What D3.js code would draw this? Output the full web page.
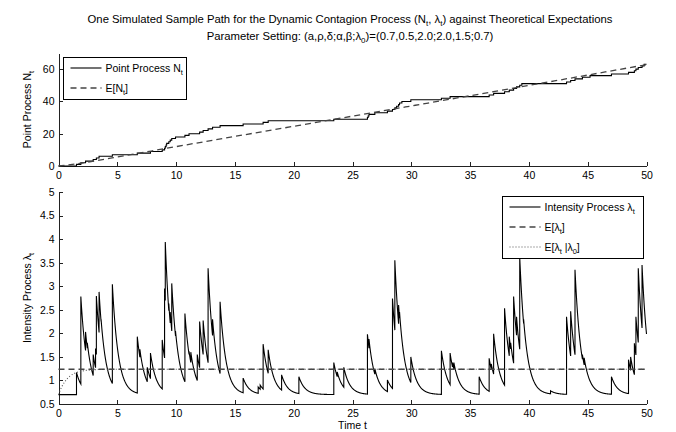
<!DOCTYPE html>
<html>
<head>
<meta charset="utf-8">
<script src="https://cdnjs.cloudflare.com/ajax/libs/d3/7.8.5/d3.min.js"></script>
<style>
  body { margin: 0; background: #fff; }
  svg text { font-family: "Liberation Sans", Arial, Helvetica, sans-serif; font-size: 10.5px; fill: #000; }
  .axis path, .axis line { stroke: #222; stroke-width: 1; shape-rendering: crispEdges; }
</style>
</head>
<body>
<svg id="chart" width="676" height="432"></svg>
<script>
/*
Dynamic contagion process: one sample path vs. theoretical expectations
*/

// Model parameters, as printed in the title
var aBase = 0.7;   // baseline a
var delta = 2.0;   // decay rate

// Intensity: jump times and level just after each jump
var jumpT = [1.53, 1.90, 2.30, 2.45, 2.95, 3.15, 3.22, 3.45, 3.62, 4.58,
  6.70, 6.92, 7.55, 7.82, 8.82, 9.02, 9.08, 9.38, 9.50, 9.63,
  9.95, 10.75, 11.10, 11.25, 11.80, 12.00, 12.30, 12.72, 13.10, 13.74,
  15.70, 16.98, 17.15, 17.40, 17.83, 18.97, 20.44, 23.41, 23.70, 24.26,
  26.27, 26.40, 26.90, 27.97, 28.40, 28.60, 28.92, 29.00, 29.96, 32.56,
  33.30, 33.50, 33.62, 35.77, 36.62, 36.80, 37.00, 37.93, 38.33, 38.45,
  38.70, 38.95, 39.22, 39.55, 41.84, 43.20, 43.55, 43.92, 44.55, 44.70,
  47.02, 48.47, 48.65, 48.97, 49.10, 49.30, 49.62];
var jumpLevel = [1.17, 2.78, 2.03, 1.80, 1.55, 1.68, 2.79, 2.88, 2.30, 3.04,
  1.93, 1.66, 1.28, 1.58, 1.86, 2.95, 3.94, 2.63, 2.45, 3.06,
  2.05, 2.42, 1.62, 1.60, 1.55, 2.25, 2.27, 3.38, 2.30, 2.67,
  1.05, 0.86, 0.90, 1.77, 1.65, 1.12, 1.08, 1.38, 1.18, 1.28,
  1.98, 1.88, 1.25, 1.01, 2.74, 3.55, 2.60, 2.45, 1.50, 1.63,
  1.58, 1.38, 1.38, 1.08, 1.47, 1.35, 1.99, 2.53, 1.93, 1.80,
  2.78, 2.35, 3.62, 2.30, 0.78, 2.35, 2.47, 3.35, 1.55, 1.48,
  1.08, 1.44, 1.50, 1.79, 2.35, 3.38, 3.45];

// Point process N_t: step times and counts
var stepT = [0, 1.53, 1.90, 2.30, 2.95, 3.22, 3.45, 4.58, 6.70, 7.82,
  8.82, 9.02, 9.08, 9.15, 9.20, 9.38, 9.50, 9.63, 9.95, 10.75,
  11.10, 12.00, 12.30, 12.72, 13.10, 13.74, 15.70, 17.40, 17.83, 23.41,
  26.27, 26.33, 26.40, 26.90, 27.97, 28.40, 28.60, 28.75, 28.92, 29.00,
  29.20, 29.96, 32.56, 33.30, 36.62, 37.00, 37.93, 38.33, 38.70, 38.95,
  39.22, 39.40, 43.20, 43.55, 43.92, 44.55, 45.20, 47.02, 48.47, 48.97,
  49.10, 49.30, 49.62, 49.80];
var stepN = [0, 1, 2, 3, 4, 5, 6, 7, 8, 9,
  10, 11, 12, 13, 14, 15, 16, 17, 18, 19,
  20, 21, 22, 23, 24, 25, 26, 27, 28, 29,
  30, 31, 32, 33, 34, 35, 36, 37, 38, 39,
  40, 41, 42, 43, 44, 45, 46, 47, 48, 49,
  50, 51, 52, 53, 54, 55, 56, 57, 58, 59,
  60, 61, 62, 63];

// E[N_t]
var expNT = [0, 1, 2, 3, 5, 10, 20, 30, 40, 50];
var expNV = [0, 0.8, 1.85, 3.05, 5.55, 12.0, 24.6, 37.2, 49.9, 62.8];

// E[lambda_t] (stationary) and E[lambda_t | lambda_0]
var expLamT = [0, 50];
var expLamV = [1.2375, 1.2375];
var condT = [0, 0.25, 0.5, 0.75, 1, 1.5, 2, 2.5, 3, 4, 5, 50];
var condV = [0.7, 0.852, 0.961, 1.04, 1.096, 1.165, 1.2, 1.218, 1.228, 1.235, 1.237, 1.2375];

var xTicks = [0, 5, 10, 15, 20, 25, 30, 35, 40, 45, 50];
var nTicks = [0, 20, 40, 60];
var lamTicks = [0.5, 1, 1.5, 2, 2.5, 3, 3.5, 4, 4.5, 5];

var svg = d3.select("#chart");

// Layout
var L = 58.5, R = 646.5;
var top1 = 53, bot1 = 166;
var top2 = 192, bot2 = 404;

var x = d3.scaleLinear().domain([0, 50]).range([L, R]);
var yN = d3.scaleLinear().domain([0, 70]).range([bot1, top1]);
var yL = d3.scaleLinear().domain([0.5, 5]).range([bot2, top2]);

function translate(x, y) {
  return "translate(" + x + "," + y + ")";
}

// Text with subscripts: parts = [[text, isSub], ...]
function richText(sel, parts, subSize) {
  subSize = subSize || "7.5px";
  var wasSub = false;
  parts.forEach(function(p) {
    var t = sel.append("tspan").text(p[0]);
    if (p[1] && !wasSub) t.attr("dy", 3).style("font-size", subSize);
    else if (p[1]) t.style("font-size", subSize);
    else if (wasSub) t.attr("dy", -3);
    wasSub = p[1];
  });
  return sel;
}

// Title
richText(svg.append("text").attr("x", 350).attr("y", 23).attr("text-anchor", "middle")
    .style("font-size", "11.3px"),
  [["One Simulated Sample Path for the Dynamic Contagion Process (N", 0], ["t", 1],
   [", \u03bb", 0], ["t", 1], [") against Theoretical Expectations", 0]], "8px");
richText(svg.append("text").attr("x", 350).attr("y", 40).attr("text-anchor", "middle")
    .style("font-size", "11.3px"),
  [["Parameter Setting: (a,\u03c1,\u03b4;\u03b1,\u03b2;\u03bb", 0], ["0", 1],
   [")=(0.7,0.5,2.0;2.0,1.5;0.7)", 0]], "8px");

function tickText(g) {
  g.attr("font-family", null).attr("font-size", null);
  g.selectAll("text").style("font-size", "10.5px");
}

// Axes, top panel
svg.append("g").attr("class", "axis").attr("transform", translate(0, bot1))
  .call(d3.axisBottom(x).tickValues(xTicks).tickSizeInner(-4).tickSizeOuter(0).tickPadding(6))
  .call(tickText);
svg.append("g").attr("class", "axis").attr("transform", translate(L, 0))
  .call(d3.axisLeft(yN).tickValues(nTicks).tickSizeInner(-4).tickSizeOuter(0).tickPadding(4))
  .call(tickText);

// Axes, bottom panel
svg.append("g").attr("class", "axis").attr("transform", translate(0, bot2))
  .call(d3.axisBottom(x).tickValues(xTicks).tickSizeInner(-4).tickSizeOuter(0).tickPadding(6))
  .call(tickText);
svg.append("g").attr("class", "axis").attr("transform", translate(L, 0))
  .call(d3.axisLeft(yL).tickValues(lamTicks).tickFormat(function(d) { return d; })
    .tickSizeInner(-4).tickSizeOuter(0).tickPadding(4))
  .call(tickText);

// Axis labels
richText(svg.append("text").attr("transform", translate(31, (top1 + bot1) / 2) + " rotate(-90)")
  .attr("text-anchor", "middle"), [["Point Process N", 0], ["t", 1]]);
richText(svg.append("text").attr("transform", translate(31, (top2 + bot2) / 2) + " rotate(-90)")
  .attr("text-anchor", "middle"), [["Intensity Process \u03bb", 0], ["t", 1]]);
svg.append("text").attr("x", (L + R) / 2).attr("y", 429).attr("text-anchor", "middle").text("Time t");

// Top panel lines
var nPts = stepT.map(function(t, i) { return [t, stepN[i]]; });
nPts.push([50, stepN[stepN.length - 1]]);
var stepLine = d3.line().x(function(d) { return x(d[0]); }).y(function(d) { return yN(d[1]); })
  .curve(d3.curveStepAfter);
var smoothN = d3.line().x(function(d) { return x(d[0]); }).y(function(d) { return yN(d[1]); })
  .curve(d3.curveMonotoneX);

svg.append("path").attr("d", stepLine(nPts))
  .style("fill", "none").style("stroke", "#000").style("stroke-width", 1.1);
svg.append("path").attr("d", smoothN(expNT.map(function(t, i) { return [t, expNV[i]]; })))
  .style("fill", "none").style("stroke", "#444").style("stroke-width", 1.3)
  .style("stroke-dasharray", "6,4");

// Bottom panel: intensity, decaying toward a between the read jumps
var evT = [0].concat(jumpT), evL = [aBase].concat(jumpLevel);
var lamPts = [];
evT.forEach(function(t0, i) {
  var t1 = i < evT.length - 1 ? evT[i + 1] : 50;
  for (var t = t0; t < t1; t += 0.02) {
    lamPts.push([t, aBase + (evL[i] - aBase) * Math.exp(-delta * (t - t0))]);
  }
  lamPts.push([t1, aBase + (evL[i] - aBase) * Math.exp(-delta * (t1 - t0))]);
});
var lamLine = d3.line().x(function(d) { return x(d[0]); }).y(function(d) { return yL(d[1]); });
var smoothL = d3.line().x(function(d) { return x(d[0]); }).y(function(d) { return yL(d[1]); })
  .curve(d3.curveMonotoneX);

svg.append("path").attr("d", lamLine(lamPts))
  .style("fill", "none").style("stroke", "#000").style("stroke-width", 1.1);
svg.append("path").attr("d", smoothL(expLamT.map(function(t, i) { return [t, expLamV[i]]; })))
  .style("fill", "none").style("stroke", "#444").style("stroke-width", 1.3)
  .style("stroke-dasharray", "6,4");
svg.append("path").attr("d", smoothL(condT.map(function(t, i) { return [t, condV[i]]; })))
  .style("fill", "none").style("stroke", "#555").style("stroke-width", 1.1)
  .style("stroke-dasharray", "1,2");

// Legends
function legend(x0, y0, w, rows) {
  var g = svg.append("g").attr("transform", translate(x0, y0));
  g.append("rect").attr("x", 0).attr("y", 0).attr("width", w).attr("height", rows.length * 20 + 2)
    .style("fill", "#fff").style("stroke", "#000").style("stroke-width", 1);
  rows.forEach(function(r, i) {
    var yy = 10.5 + i * 20;
    g.append("line").attr("x1", 7).attr("x2", 38).attr("y1", yy).attr("y2", yy)
      .style("stroke", r.color).style("stroke-width", r.width).style("stroke-dasharray", r.dash);
    richText(g.append("text").attr("x", 42).attr("y", yy + 3.5), r.label);
  });
}

legend(63.5, 57.5, 123, [
  { label: [["Point Process N", 0], ["t", 1]], dash: null, color: "#000", width: 1.1 },
  { label: [["E[N", 0], ["t", 1], ["]", 0]], dash: "6,4", color: "#444", width: 1.3 }
]);
legend(502.5, 196.5, 141, [
  { label: [["Intensity Process \u03bb", 0], ["t", 1]], dash: null, color: "#000", width: 1.1 },
  { label: [["E[\u03bb", 0], ["t", 1], ["]", 0]], dash: "6,4", color: "#444", width: 1.3 },
  { label: [["E[\u03bb", 0], ["t", 1], [" |\u03bb", 0], ["0", 1], ["]", 0]], dash: "1,2", color: "#555", width: 1.1 }
]);
</script>
</body>
</html>
